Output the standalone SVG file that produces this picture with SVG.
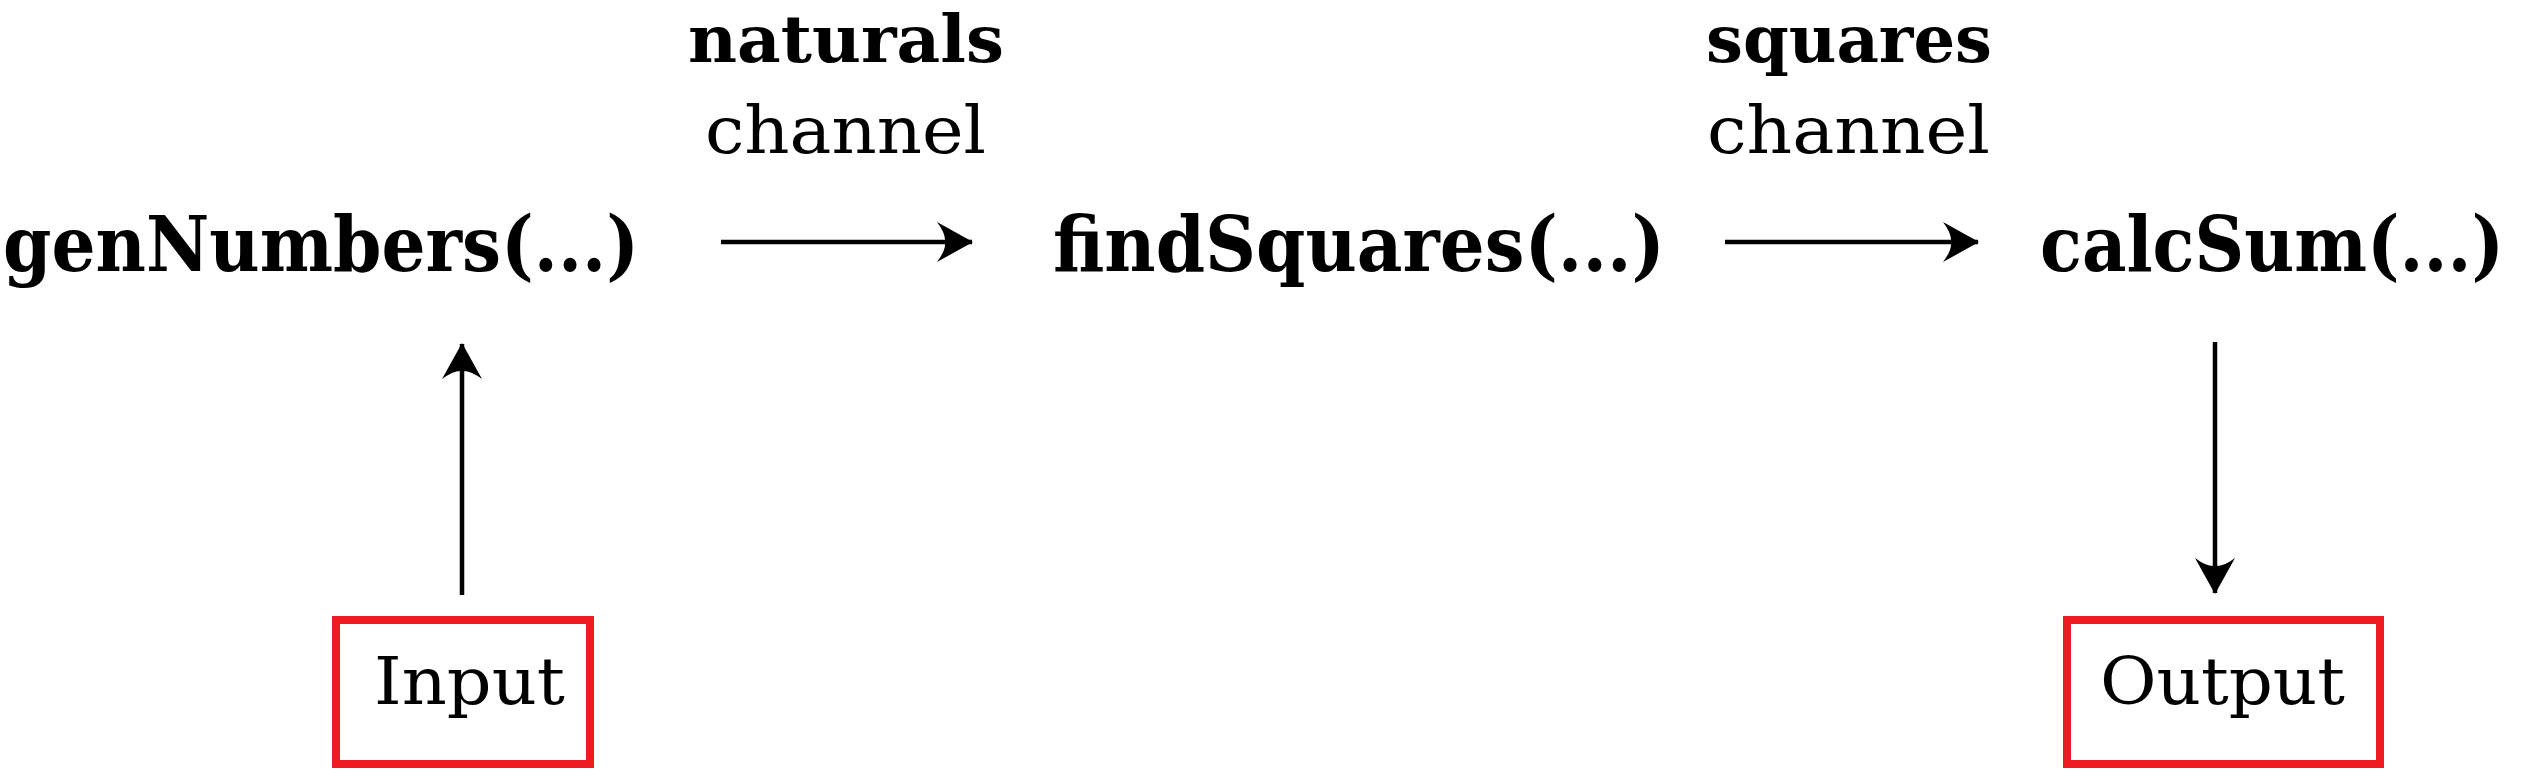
<svg xmlns="http://www.w3.org/2000/svg" width="2524" height="770" viewBox="0 0 2524 770">
  <style>
    .fn { font-family: "DejaVu Serif", "Liberation Serif", serif; font-weight: bold; font-size: 77px; fill: #000; }
    .ch { font-family: "DejaVu Serif", "Liberation Serif", serif; font-weight: bold; font-size: 65px; fill: #000; }
    .lbl { font-family: "DejaVu Serif", "Liberation Serif", serif; font-weight: normal; font-size: 65px; fill: #000; }
    .box { fill: #fff; stroke: #ED1C24; stroke-width: 8; }
    .conn { stroke: #000; stroke-width: 4.5; fill: none; }
  </style>
  <defs>
    <marker id="ah" viewBox="-40 -24 44 48" refX="0" refY="0" markerWidth="44" markerHeight="48" markerUnits="userSpaceOnUse" orient="auto">
      <path d="M1,0 L-35,-20 Q-26,-8 -27,0 Q-26,8 -35,20 Z" fill="#000"/>
    </marker>
  </defs>
  <rect width="2524" height="770" fill="#fff"/>

  <g id="connectors">
    <line class="conn" x1="721" y1="242" x2="972" y2="242" marker-end="url(#ah)"/>
    <line class="conn" x1="1725" y1="242" x2="1978" y2="242" marker-end="url(#ah)"/>
    <line class="conn" x1="462" y1="595" x2="462" y2="344" marker-end="url(#ah)"/>
    <line class="conn" x1="2215" y1="342" x2="2215" y2="593" marker-end="url(#ah)"/>
  </g>

  <g id="label-naturals">
    <text class="ch" x="688" y="62" textLength="316" lengthAdjust="spacingAndGlyphs">naturals</text>
    <text class="lbl" x="705" y="153" textLength="281" lengthAdjust="spacingAndGlyphs">channel</text>
  </g>
  <g id="label-squares">
    <text class="ch" x="1706" y="62" textLength="286" lengthAdjust="spacingAndGlyphs">squares</text>
    <text class="lbl" x="1707" y="153" textLength="283" lengthAdjust="spacingAndGlyphs">channel</text>
  </g>

  <g id="node-genNumbers">
    <text class="fn" x="3" y="271" textLength="636" lengthAdjust="spacingAndGlyphs">genNumbers(...)</text>
  </g>
  <g id="node-findSquares">
    <text class="fn" x="1053" y="271" textLength="612" lengthAdjust="spacingAndGlyphs">findSquares(...)</text>
  </g>
  <g id="node-calcSum">
    <text class="fn" transform="translate(2040 271) scale(0.83 1)" x="0" y="0" textLength="559" lengthAdjust="spacingAndGlyphs">calcSum(...)</text>
  </g>

  <g id="node-input">
    <rect class="box" x="336" y="620" width="254" height="144"/>
    <text class="lbl" x="374" y="704" textLength="191" lengthAdjust="spacingAndGlyphs">Input</text>
  </g>
  <g id="node-output">
    <rect class="box" x="2067" y="620" width="313" height="144"/>
    <text class="lbl" x="2100" y="704" textLength="245" lengthAdjust="spacingAndGlyphs">Output</text>
  </g>
</svg>
